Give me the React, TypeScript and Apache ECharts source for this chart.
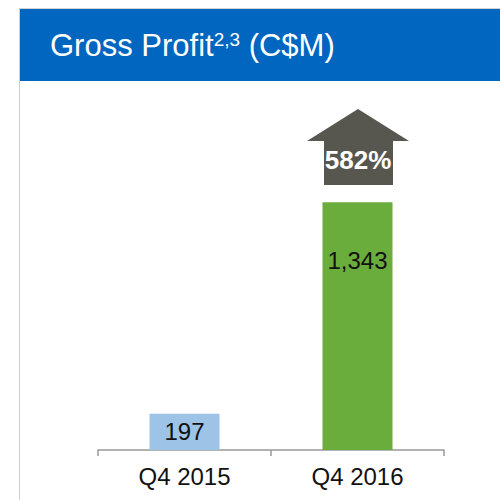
import React, { useEffect, useRef } from "react";
import * as echarts from "echarts";

const categories = ["Q4 2015", "Q4 2016"];
const values = [197, 1343];
const barColors = ["#9DC3E6", "#6AAD3D"];
const changeLabel = "582%";
const titleMain = "Gross Profit";
const titleSup = "2,3";
const titleUnit = " (C$M)";

const FONT = "'Liberation Sans', Arial, sans-serif";

export default function App() {
  const ref = useRef<HTMLDivElement>(null);
  useEffect(() => {
    document.body.style.margin = "0";
    const chart = echarts.init(ref.current!, null, { renderer: "svg" });
    chart.setOption({
      animation: false,
      backgroundColor: "#ffffff",
      textStyle: { fontFamily: FONT },
      grid: { left: 98, right: 56, top: 81, bottom: 50 },
      xAxis: {
        type: "category",
        data: categories,
        boundaryGap: true,
        axisLine: { show: true, lineStyle: { color: "#999999", width: 1.5 } },
        axisTick: { show: true, alignWithLabel: false, length: 6, lineStyle: { color: "#999999", width: 1.5 } },
        axisLabel: { color: "#111", fontSize: 24, fontFamily: FONT, margin: 14 },
      },
      yAxis: { type: "value", min: 0, max: 2000, show: false, splitLine: { show: false } },
      series: [
        {
          type: "bar",
          barWidth: 70,
          data: values.map((v, i) => ({
            value: v,
            itemStyle: { color: barColors[i] },
            label:
              i === 0
                ? { show: true, position: "inside", color: "#111", fontSize: 24, fontFamily: FONT }
                : {
                    show: true,
                    position: ["50%", 58],
                    align: "center",
                    verticalAlign: "middle",
                    color: "#111",
                    fontSize: 24,
                    fontFamily: FONT,
                  },
          })),
          label: { formatter: (p: any) => p.value.toLocaleString("en-US") },
        },
      ],
      graphic: [
        { type: "line", shape: { x1: 19, y1: 8.5, x2: 500, y2: 8.5 }, style: { stroke: "#d0d0d0", lineWidth: 1 } },
        { type: "line", shape: { x1: 19.5, y1: 8, x2: 19.5, y2: 500 }, style: { stroke: "#d0d0d0", lineWidth: 1 } },
        { type: "rect", shape: { x: 20, y: 9, width: 480, height: 72 }, style: { fill: "#0066BF" } },
        {
          type: "text",
          x: 50,
          y: 45,
          style: {
            text: `{a|${titleMain}}{b|${titleSup}}{a|${titleUnit}}`,
            verticalAlign: "middle",
            rich: {
              a: { fontSize: 31, fill: "#ffffff", fontFamily: FONT, verticalAlign: "bottom" },
              b: { fontSize: 19, fill: "#ffffff", fontFamily: FONT, verticalAlign: "top", padding: [0, 0, 11, 0] },
            },
          },
        },
        {
          type: "polygon",
          shape: {
            points: [
              [358, 109],
              [409, 141],
              [393, 141],
              [393, 185],
              [324, 185],
              [324, 141],
              [307, 141],
            ],
          },
          style: { fill: "#575750" },
        },
        {
          type: "text",
          x: 358,
          y: 160,
          style: {
            text: changeLabel,
            fill: "#ffffff",
            fontSize: 26,
            fontWeight: "bold",
            fontFamily: FONT,
            align: "center",
            verticalAlign: "middle",
          },
        },
      ],
    });
    return () => chart.dispose();
  }, []);
  return <div ref={ref} style={{ width: 500, height: 500 }} />;
}
